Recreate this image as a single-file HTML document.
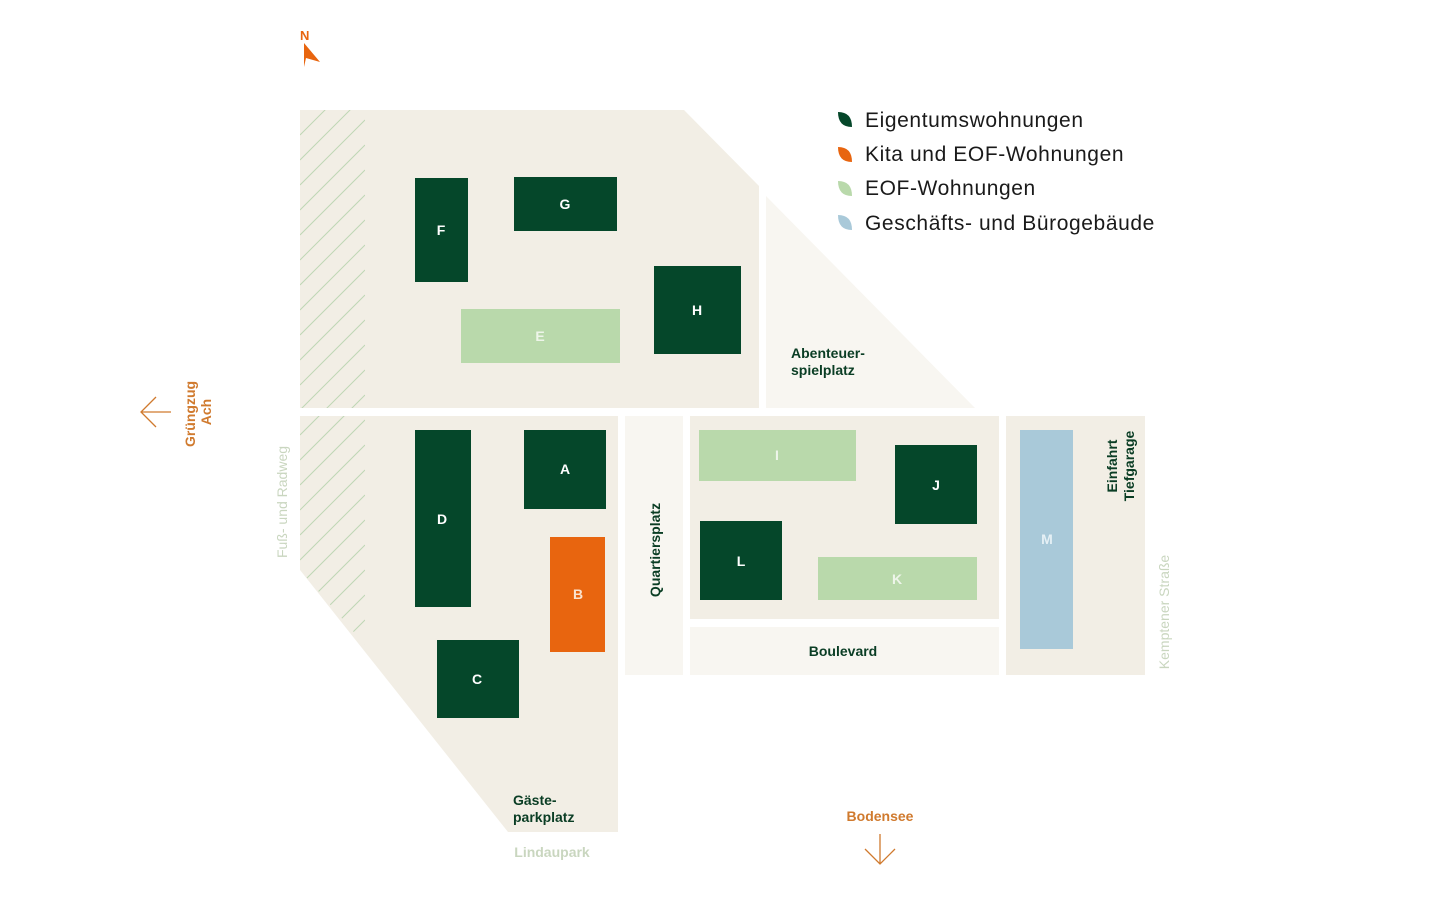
<!DOCTYPE html>
<html><head><meta charset="utf-8"><style>
html,body{margin:0;padding:0;background:#fff;}
svg{display:block;font-family:"Liberation Sans",sans-serif;}
</style></head><body>
<svg width="1440" height="920" viewBox="0 0 1440 920" xmlns="http://www.w3.org/2000/svg">
<defs>
<clipPath id="hc"><rect x="300" y="110" width="65" height="298"/><polygon points="300,416 365,416 365,645 300,570"/></clipPath>
</defs>
<polygon points="300,110 684,110 759,186 759,408 300,408" fill="#f2eee5"/>
<polygon points="766,196 975,408 766,408" fill="#f8f6f1"/>
<polygon points="300,416 618,416 618,832 508,832 300,570" fill="#f2eee5"/>
<rect x="625" y="416" width="58" height="259" fill="#f8f6f1"/>
<rect x="690" y="416" width="309" height="203" fill="#f2eee5"/>
<rect x="690" y="627" width="309" height="48" fill="#f8f6f1"/>
<rect x="1006" y="416" width="139" height="259" fill="#f2eee5"/>
<g clip-path="url(#hc)" stroke="#bfd6b5" stroke-width="1">
<path d="M300,135 L365,70 M300,160 L365,95 M300,185 L365,120 M300,210 L365,145 M300,235 L365,170 M300,260 L365,195 M300,285 L365,220 M300,310 L365,245 M300,335 L365,270 M300,360 L365,295 M300,385 L365,320 M300,410 L365,345 M300,435 L365,370 M300,460 L365,395 M300,485 L365,420 M300,510 L365,445 M300,535 L365,470 M300,560 L365,495 M300,585 L365,520 M300,610 L365,545 M300,635 L365,570 M300,660 L365,595 M300,685 L365,620 M300,710 L365,645"/>
</g>
<g fill="#05472a">
<rect x="415" y="178" width="53" height="104"/>
<rect x="514" y="177" width="103" height="54"/>
<rect x="654" y="266" width="87" height="88"/>
<rect x="415" y="430" width="56" height="177"/>
<rect x="524" y="430" width="82" height="79"/>
<rect x="437" y="640" width="82" height="78"/>
<rect x="895" y="445" width="82" height="79"/>
<rect x="700" y="521" width="82" height="79"/>
</g>
<g fill="#b9d9ab">
<rect x="461" y="309" width="159" height="54"/>
<rect x="699" y="430" width="157" height="51"/>
<rect x="818" y="557" width="159" height="43"/>
</g>
<rect x="550" y="537" width="55" height="115" fill="#e8650f"/>
<rect x="1020" y="430" width="53" height="219" fill="#a9c9d9"/>
<g font-size="14" font-weight="bold" text-anchor="middle" fill="#fff">
<text x="441" y="235">F</text>
<text x="565" y="209">G</text>
<text x="697" y="315">H</text>
<text x="540" y="341" fill="#eef5ea">E</text>
<text x="442" y="524">D</text>
<text x="565" y="474">A</text>
<text x="578" y="599" fill="#fbe3cf">B</text>
<text x="477" y="684">C</text>
<text x="777" y="460" fill="#eef5ea">I</text>
<text x="936" y="490">J</text>
<text x="741" y="566">L</text>
<text x="897" y="584" fill="#eef5ea">K</text>
<text x="1047" y="544" fill="#e6f0f5">M</text>
</g>
<g>
<path d="M838,112 Q852,112 852,127 Q838,127 838,112Z" fill="#05472a"/>
<path d="M838,147 Q852,147 852,162 Q838,162 838,147Z" fill="#e8650f"/>
<path d="M838,181 Q852,181 852,196 Q838,196 838,181Z" fill="#b9d9ab"/>
<path d="M838,215 Q852,215 852,230 Q838,230 838,215Z" fill="#a9c9d9"/>
<g font-size="21" fill="#1a1a1a" letter-spacing="0.6">
<text x="865" y="127">Eigentumswohnungen</text>
<text x="865" y="161">Kita und EOF-Wohnungen</text>
<text x="865" y="195">EOF-Wohnungen</text>
<text x="865" y="230">Geschäfts- und Bürogebäude</text>
</g>
</g>
<text x="300" y="40" font-size="13" font-weight="bold" fill="#e8650f">N</text>
<polygon points="304,43 320,62 306,58 304,67" fill="#e8650f"/>
<g font-size="14" font-weight="bold" fill="#0a3d24">
<text x="791" y="358">Abenteuer-</text>
<text x="791" y="375">spielplatz</text>
<text x="513" y="805">Gäste-</text>
<text x="513" y="822">parkplatz</text>
<text x="843" y="656" text-anchor="middle">Boulevard</text>
<text transform="translate(660,550) rotate(-90)" text-anchor="middle">Quartiersplatz</text>
<text transform="translate(1117,466) rotate(-90)" text-anchor="middle">Einfahrt</text>
<text transform="translate(1134,466) rotate(-90)" text-anchor="middle">Tiefgarage</text>
</g>
<g font-size="14" fill="#c9d6bf">
<text transform="translate(287,502) rotate(-90)" text-anchor="middle">Fuß- und Radweg</text>
<text transform="translate(1169,612) rotate(-90)" text-anchor="middle">Kemptener Straße</text>
<text x="552" y="857" text-anchor="middle" font-weight="bold">Lindaupark</text>
</g>
<g font-size="14" font-weight="bold" fill="#d07a2e">
<text transform="translate(195,414) rotate(-90)" text-anchor="middle">Grüngzug</text>
<text transform="translate(211,412) rotate(-90)" text-anchor="middle">Ach</text>
<text x="880" y="821" text-anchor="middle">Bodensee</text>
</g>
<g stroke="#d07a2e" stroke-width="1.3" fill="none">
<path d="M141,412 L171,412 M156,397 L141,412 L156,427"/>
<path d="M880,834 L880,864 M865,849 L880,864 L895,849"/>
</g>
</svg>
</body></html>
